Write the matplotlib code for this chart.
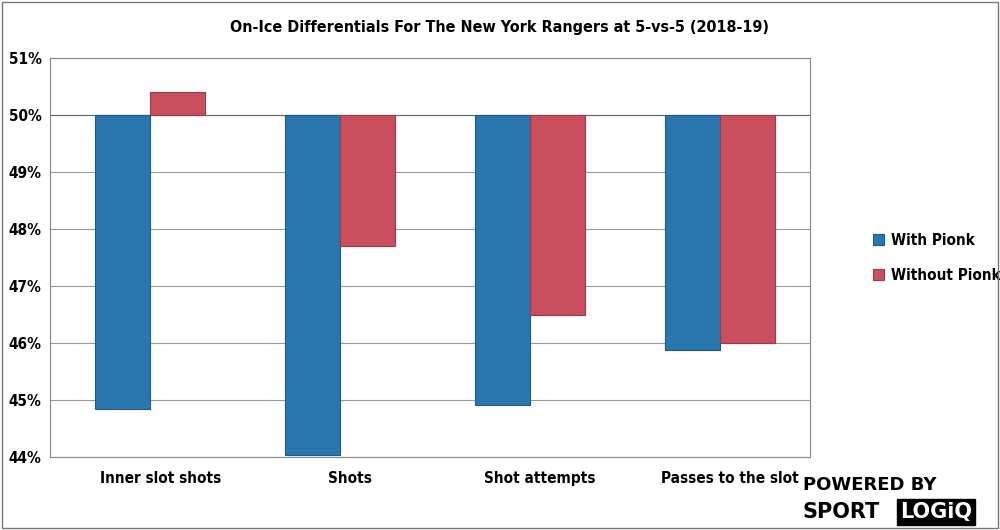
import matplotlib
matplotlib.use("Agg")
import matplotlib.pyplot as plt
import numpy as np

plt.rcParams['font.family'] = ['DejaVu Sans']
plt.rcParams['font.stretch'] = 'condensed'

categories = ["Inner slot shots", "Shots", "Shot attempts", "Passes to the slot"]
with_pionk = [44.85, 44.05, 44.92, 45.88]
without_pionk = [50.4, 47.7, 46.5, 46.0]
yticks = [44, 45, 46, 47, 48, 49, 50, 51]
base = 50.0

fig = plt.figure(figsize=(10, 5.3), dpi=100)
ax = fig.add_axes([0.05, 0.137, 0.76, 0.754])
x = np.arange(len(categories))
w = 0.29
b1 = [v - base for v in with_pionk]
b2 = [v - base for v in without_pionk]
ax.bar(x - w/2 + 0.025, b1, w, bottom=base, color="#2a77b0", edgecolor="#1d5a88", linewidth=0.8, label="With Pionk", zorder=3)
ax.bar(x + w/2 + 0.025, b2, w, bottom=base, color="#c94f5e", edgecolor="#9c3a47", linewidth=0.8, label="Without Pionk", zorder=3)
ax.set_ylim(44, 51)
ax.set_xlim(-0.5, 3.5)
ax.set_yticks(yticks)
ax.set_yticklabels([f"{t}%" for t in yticks], fontsize=11, fontweight="bold")
ax.set_xticks(x + 0.08)
ax.set_xticklabels(categories, fontsize=11, fontweight="bold")
ax.tick_params(axis="x", length=0, pad=10)
ax.tick_params(axis="y", length=0, pad=6)
ax.grid(axis="y", color="#999999", linewidth=0.8, zorder=0)
ax.axhline(base, color="#666666", linewidth=0.8, zorder=2)
for s in ax.spines.values():
    s.set_color("#888888")
ax.legend(loc="center left", bbox_to_anchor=(1.065, 0.5), frameon=False,
          prop={"weight": "bold", "size": 11, "stretch": "condensed"}, handlelength=0.7, handleheight=0.7,
          labelspacing=1.3, handletextpad=0.5)
fig.text(0.5, 0.94, "On-Ice Differentials For The New York Rangers at 5-vs-5 (2018-19)",
         ha="center", fontsize=11.5, fontweight="bold")
fig.text(0.803, 0.075, "POWERED BY", fontsize=13, fontweight="bold", fontstretch="normal")
fig.text(0.803, 0.022, "SPORT", fontsize=15, fontweight="bold", fontstretch="normal")
fig.text(0.9, 0.022, "LOGiQ", fontsize=15, fontweight="bold", color="white", fontstretch="normal",
         bbox=dict(boxstyle="square,pad=0.15", fc="black", ec="black"))
border = plt.Rectangle((0.002, 0.004), 0.996, 0.992, transform=fig.transFigure, fill=False, ec="#777777", lw=1)
fig.add_artist(border)
fig.savefig("out.png", dpi=100)
